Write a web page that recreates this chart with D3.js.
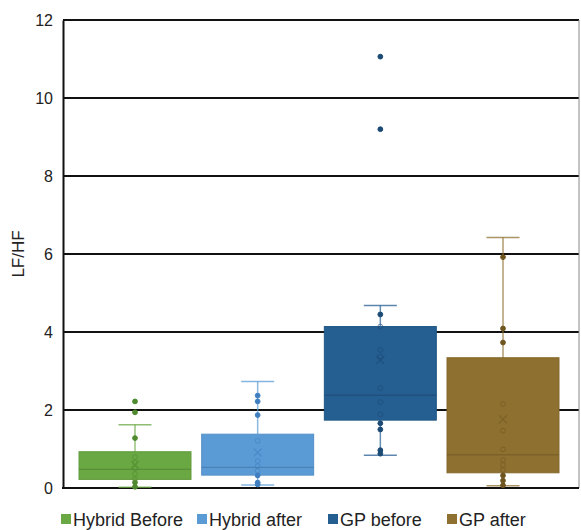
<!DOCTYPE html>
<html>
<head>
<meta charset="utf-8">
<script src="https://cdn.jsdelivr.net/npm/d3@7/dist/d3.min.js"></script>
<style>
  html, body { margin: 0; padding: 0; background: #fff; }
  svg { display: block; font-family: "Liberation Sans", Arial, sans-serif; }
</style>
</head>
<body>
<svg id="chart" width="581" height="530"></svg>
<script>
// Groups and box statistics (LF/HF ratio)
const groups      = ["Hybrid Before", "Hybrid after", "GP before", "GP after"];
const colors      = ["#6aa843", "#5b9bd5", "#255e91", "#8e7030"];
const pointColors = ["#4f8a2e", "#3f7fbf", "#1b4a75", "#6f561f"];
const whiskerLow  = [0.02, 0.08, 0.84, 0.06];
const q1          = [0.22, 0.33, 1.74, 0.39];
const median      = [0.48, 0.53, 2.38, 0.85];
const q3          = [0.93, 1.38, 4.14, 3.34];
const whiskerHigh = [1.62, 2.73, 4.68, 6.42];
const means       = [0.60, 0.91, 3.28, 1.76];
const points = [
  [2.22, 1.94, 1.28, 0.79, 0.65, 0.50, 0.36, 0.22, 0.14, 0.03],
  [2.37, 2.22, 1.87, 1.21, 0.69, 0.56, 0.44, 0.32, 0.14, 0.09],
  [11.06, 9.20, 4.45, 4.14, 3.54, 3.37, 2.56, 2.20, 1.89, 1.66, 1.50, 0.97, 0.88],
  [5.92, 4.09, 3.73, 2.15, 1.47, 0.99, 0.72, 0.59, 0.46, 0.32, 0.19, 0.07]
];
const yTicks = [0, 2, 4, 6, 8, 10, 12];

const svg = d3.select("#chart");
const plot = { left: 63, right: 579, top: 20, bottom: 488 };

const y = d3.scaleLinear().domain([0, 12]).range([plot.bottom, plot.top]);
const x = d3.scaleBand().domain(groups).range([79, 559]).paddingInner(0.087).paddingOuter(0);

// Horizontal gridlines
svg.append("g")
  .selectAll("line")
  .data(yTicks.filter(d => d > 0))
  .join("line")
  .attr("x1", plot.left).attr("x2", plot.right)
  .attr("y1", d => y(d)).attr("y2", d => y(d))
  .attr("stroke", "#111").attr("stroke-width", 2);

// Right border
svg.append("line")
  .attr("x1", plot.right).attr("x2", plot.right)
  .attr("y1", plot.top).attr("y2", plot.bottom)
  .attr("stroke", "#888").attr("stroke-width", 1);

// Y axis
const yAxis = svg.append("g")
  .attr("transform", `translate(${plot.left},0)`)
  .call(d3.axisLeft(y).tickValues(yTicks).tickSize(0).tickPadding(10));
yAxis.select(".domain").attr("stroke", "#111").attr("stroke-width", 2);
yAxis.selectAll("text").attr("font-size", 16).attr("fill", "#222")
  .attr("font-family", "Liberation Sans, Arial, sans-serif");

// Bottom axis line
svg.append("line")
  .attr("x1", plot.left - 1).attr("x2", plot.right)
  .attr("y1", plot.bottom).attr("y2", plot.bottom)
  .attr("stroke", "#111").attr("stroke-width", 2);

// Y axis title
svg.append("text")
  .attr("transform", `translate(24,${(plot.top + plot.bottom) / 2}) rotate(-90)`)
  .attr("text-anchor", "middle")
  .attr("font-size", 17).attr("fill", "#222")
  .text("LF/HF");

// Boxes
const bw = x.bandwidth();
const capW = 33;
groups.forEach((g, i) => {
  const cx = x(g) + bw / 2;
  const gg = svg.append("g");
  // whisker stems
  gg.append("line")
    .attr("x1", cx).attr("x2", cx)
    .attr("y1", y(whiskerHigh[i])).attr("y2", y(q3[i]))
    .attr("stroke", colors[i]).attr("stroke-opacity", 0.7).attr("stroke-width", 1.5);
  gg.append("line")
    .attr("x1", cx).attr("x2", cx)
    .attr("y1", y(q1[i])).attr("y2", y(whiskerLow[i]))
    .attr("stroke", colors[i]).attr("stroke-opacity", 0.7).attr("stroke-width", 1.5);
  // caps
  [whiskerHigh[i], whiskerLow[i]].forEach(v => {
    gg.append("line")
      .attr("x1", cx - capW / 2).attr("x2", cx + capW / 2)
      .attr("y1", y(v)).attr("y2", y(v))
      .attr("stroke", colors[i]).attr("stroke-opacity", 0.75).attr("stroke-width", 1.5);
  });
  // box
  gg.append("rect")
    .attr("x", x(g)).attr("width", bw)
    .attr("y", y(q3[i])).attr("height", y(q1[i]) - y(q3[i]))
    .attr("fill", colors[i])
    .attr("stroke", d3.color(colors[i]).darker(0.2)).attr("stroke-width", 1);
  // median
  gg.append("line")
    .attr("x1", x(g)).attr("x2", x(g) + bw)
    .attr("y1", y(median[i])).attr("y2", y(median[i]))
    .attr("stroke", d3.color(colors[i]).darker(0.6)).attr("stroke-width", 1);
  // data points: filled outside the box, hollow inside
  gg.selectAll("circle")
    .data(points[i])
    .join("circle")
    .attr("cx", cx).attr("cy", d => y(d))
    .attr("r", 2.4)
    .attr("fill", d => (d > q3[i] || d < q1[i]) ? pointColors[i] : "none")
    .attr("stroke", pointColors[i])
    .attr("stroke-opacity", d => (d > q3[i] || d < q1[i]) ? 1 : 0.6)
    .attr("stroke-width", 1);
  // mean marker
  const m = y(means[i]), s = 4;
  gg.append("path")
    .attr("d", `M${cx - s},${m - s}L${cx + s},${m + s}M${cx - s},${m + s}L${cx + s},${m - s}`)
    .attr("stroke", pointColors[i]).attr("stroke-opacity", 0.6).attr("stroke-width", 1.2)
    .attr("fill", "none");
});

// Legend
const legendX = [61, 197, 328, 447];
const lg = svg.append("g");
groups.forEach((g, i) => {
  lg.append("rect")
    .attr("x", legendX[i]).attr("y", 514).attr("width", 10).attr("height", 10)
    .attr("fill", colors[i]);
  lg.append("text")
    .attr("x", legendX[i] + 12).attr("y", 525.5)
    .attr("font-size", 18).attr("fill", "#222")
    .text(g);
});
</script>
</body>
</html>
